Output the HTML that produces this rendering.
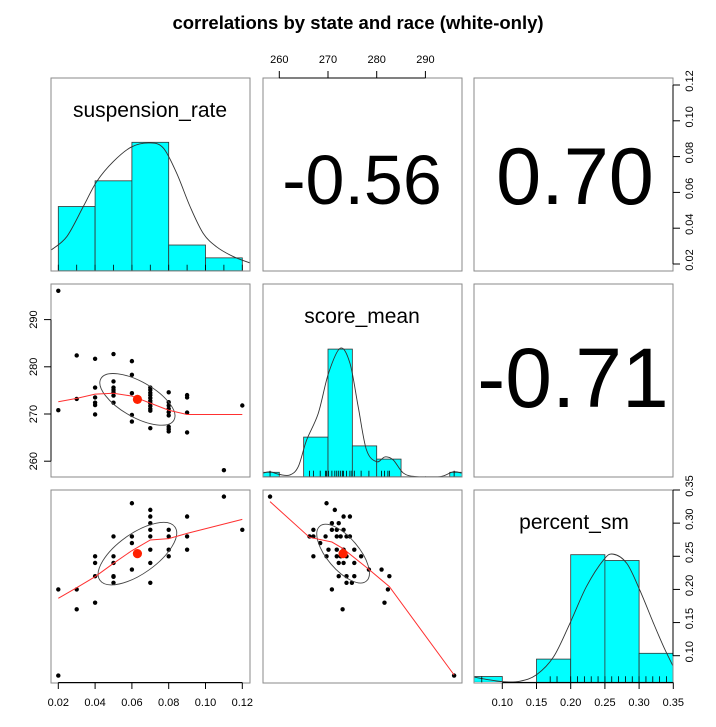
<!DOCTYPE html>
<html><head><meta charset="utf-8"><style>
html,body{margin:0;padding:0;background:#fff;}
svg{display:block;font-family:"Liberation Sans",Arial,sans-serif;}
</style></head><body>
<svg id="chart" width="716" height="727" viewBox="0 0 716 727" xmlns="http://www.w3.org/2000/svg">
<defs>
<clipPath id="c11"><rect x="51" y="78" width="199" height="193"/></clipPath>
<clipPath id="c22"><rect x="263" y="284" width="199" height="193"/></clipPath>
<clipPath id="c33"><rect x="474" y="490" width="199" height="192"/></clipPath>
</defs>
<text x="358" y="29" text-anchor="middle" font-size="18.5" font-weight="bold">correlations by state and race (white-only)</text>
</svg>
<script>
// ---- data ----
const susTicks=[0.02,0.04,0.06,0.08,0.10,0.12];
const rightTicks1=[0.02,0.04,0.06,0.08,0.10,0.12];
const scoreTicks=[260,270,280,290];
const pctTicks=[0.10,0.15,0.20,0.25,0.30,0.35];
const susBins=[0.02,0.04,0.06,0.08,0.10,0.12];
const susCounts=[10,14,20,4,2];
const susDensX=[0.016,0.0246,0.0336,0.0409,0.0499,0.0599,0.0698,0.0771,0.0843,0.0916,0.0988,0.1061,0.1151,0.1242];
const susDensY=[3.2,5.3,10.0,13.9,17.0,19.3,19.9,19.1,15.2,10.0,5.8,3.7,2.2,1.2];
const susRug=[0.02,0.03,0.04,0.05,0.06,0.07,0.08,0.09,0.10,0.11,0.12];
const scoreBins=[255,260,265,270,275,280,285,290,295,300];
const scoreCounts=[1,0,9,29,7,4,0,0,1];
const scoreDensX=[256.6,258.1,260.1,262.2,263.9,265.6,268.0,270.1,272.5,274.5,276.2,277.9,280.0,281.7,283.4,285.5,288.2,293.0,295.7,297.5];
const scoreDensY=[0.8,1.1,0.5,0.4,2.3,8.3,14.4,23.5,29.2,25.8,15.9,6.1,3.4,4.5,3.8,0.8,0,0,1.1,0.8];
const scoreRug=[258.1,266.2,267.0,268.4,269.5,269.7,270.1,270.8,271.4,271.8,272.2,272.6,273.0,273.2,273.8,274.5,274.9,275.4,276.8,278.4,281.0,281.6,282.3,282.6,295.9];
const pctBins=[0.05,0.10,0.15,0.20,0.25,0.30,0.35];
const pctCounts=[1,0,4,22,21,5];
const pctDensX=[0.059,0.077,0.101,0.126,0.150,0.175,0.199,0.223,0.248,0.262,0.282,0.301,0.321,0.336,0.350];
const pctDensY=[0.9,0.5,0.1,0.2,1.3,4.4,10.2,16.5,21.1,22.1,20.5,15.9,10.2,6.1,2.7];
const pctRug=[0.07,0.17,0.18,0.2,0.21,0.22,0.23,0.24,0.25,0.26,0.27,0.28,0.29,0.30,0.31,0.32,0.33,0.34];
// scatter: suspension vs score
const s21x=[0.02,0.02,0.03,0.03,0.04,0.04,0.04,0.04,0.04,0.04,0.05,0.05,0.05,0.05,0.05,0.05,0.05,0.06,0.06,0.06,0.06,0.06,0.07,0.07,0.07,0.07,0.07,0.07,0.07,0.07,0.07,0.07,0.07,0.08,0.08,0.08,0.08,0.08,0.08,0.08,0.08,0.08,0.09,0.09,0.09,0.09,0.11,0.12];
const s21y=[296.1,270.8,282.4,273.2,281.7,275.6,273.5,272.4,271.9,269.9,282.7,276.9,275.6,275.1,274.6,273.9,272.4,281.2,278.3,274.4,269.8,268.4,275.6,275.1,274.5,274.0,273.4,272.8,272.3,271.7,271.1,270.7,267.0,274.6,272.5,271.8,271.1,270.4,269.7,267.3,266.8,266.3,274.0,273.5,270.3,266.1,258.1,271.8];
const l21x=[0.02,0.03,0.04,0.05,0.06,0.07,0.08,0.09,0.12];
const l21y=[272.6,273.3,274.2,274.4,273.8,272.3,270.8,269.9,269.9];
// scatter: suspension vs percent
const s31x=[0.02,0.02,0.03,0.03,0.04,0.04,0.04,0.04,0.05,0.05,0.05,0.05,0.05,0.05,0.06,0.06,0.06,0.06,0.07,0.07,0.07,0.07,0.07,0.07,0.07,0.07,0.08,0.08,0.08,0.08,0.09,0.09,0.09,0.11,0.12];
const s31y=[0.200,0.070,0.200,0.170,0.250,0.240,0.220,0.180,0.280,0.250,0.240,0.220,0.219,0.210,0.330,0.280,0.270,0.230,0.320,0.310,0.300,0.290,0.280,0.260,0.240,0.210,0.290,0.280,0.260,0.250,0.310,0.280,0.260,0.340,0.290];
const l31x=[0.02,0.03,0.04,0.05,0.06,0.07,0.08,0.09,0.12];
const l31y=[0.1866,0.2026,0.2192,0.2394,0.2585,0.2746,0.2766,0.2846,0.3057];
// scatter: score vs percent
const s32x=[258.1,269.7,271.4,273.2,274.5,270.8,272.2,267.0,270.8,271.8,273.2,266.2,267.0,269.5,271.8,272.6,273.8,274.5,268.4,270.1,271.8,273.2,275.4,267.0,269.7,271.8,272.6,273.8,276.8,272.2,273.2,275.4,278.4,281.0,272.2,273.8,275.4,282.6,273.8,274.9,270.8,282.3,281.6,273.0,295.9];
const s32y=[0.340,0.330,0.320,0.310,0.310,0.300,0.300,0.290,0.290,0.290,0.290,0.280,0.280,0.280,0.280,0.280,0.280,0.280,0.270,0.260,0.260,0.260,0.260,0.250,0.250,0.250,0.250,0.250,0.250,0.240,0.240,0.240,0.230,0.230,0.220,0.220,0.220,0.220,0.210,0.210,0.200,0.200,0.180,0.170,0.070];
const l32x=[258.1,266.2,270.8,273.0,278.4,282.6,295.9];
const l32y=[0.3324,0.2786,0.2715,0.262,0.2303,0.2042,0.0709];
const meanSus=[0.063];
const meanScore=[273.1];
const meanPct=[0.254];
const corrVals=["-0.56","0.70","-0.71"];

// ---- scales ----
const xS=v=>58.3+(v-0.02)*1840;
const xC=v=>328+(v-270)*4.87;
const xP=v=>502.3+(v-0.10)*684;
const yR1=v=>264-(v-0.02)*1790;
const yC=v=>414-(v-270)*4.72;
const yP=v=>490+(0.35-v)*662.8;

const svg=document.getElementById('chart');
const NS='http://www.w3.org/2000/svg';
function mk(tag,attrs,parent){const e=document.createElementNS(NS,tag);for(const k in attrs)e.setAttribute(k,attrs[k]);(parent||svg).appendChild(e);return e;}

const panels=[[51,78,'panel-suspension-hist'],[263,78,'panel-corr-sus-score'],[474,78,'panel-corr-sus-pct'],
[51,284,'panel-scatter-sus-score'],[263,284,'panel-score-hist'],[474,284,'panel-corr-score-pct'],
[51,490,'panel-scatter-sus-pct'],[263,490,'panel-scatter-score-pct'],[474,490,'panel-pct-hist']];

function hist(bins,counts,xf,base,unit,clip,name){
  const g=mk('g',{'clip-path':'url(#'+clip+')'});
  
  
  for(let i=0;i<counts.length;i++){
    const x0=xf(bins[i]),x1=xf(bins[i+1]),h=counts[i]*unit;
    const r=mk('rect',{x:x0,y:base-h,width:x1-x0,height:Math.max(h,0.6),fill:'#00ffff',stroke:'#333','stroke-width':0.8},g);
    
    
  }
  return g;
}
function smoothPath(P){
  let d='M'+P[0][0]+','+P[0][1];
  for(let i=0;i<P.length-1;i++){
    const p0=P[i-1]||P[i],p1=P[i],p2=P[i+1],p3=P[i+2]||P[i+1];
    const c1x=p1[0]+(p2[0]-p0[0])/6,c1y=p1[1]+(p2[1]-p0[1])/6;
    const c2x=p2[0]-(p3[0]-p1[0])/6,c2y=p2[1]-(p3[1]-p1[1])/6;
    d+=' C'+c1x+','+c1y+' '+c2x+','+c2y+' '+p2[0]+','+p2[1];
  }
  return d;
}
function dens(xs,ys,xf,base,unit,clip,name){
  const P=xs.map((v,i)=>[xf(v),base-ys[i]*unit]);
  const p=mk('path',{d:smoothPath(P),fill:'none',stroke:'#333','stroke-width':0.9,'clip-path':'url(#'+clip+')'});
  
  
}
function rug(vals,xf,base,name){
  const g=mk('g',{});
  
  
  vals.forEach(v=>{mk('line',{x1:xf(v),x2:xf(v),y1:base,y2:base-6,stroke:'#000','stroke-width':0.8},g);});
}
function scatter(xs,ys,xf,yf,name){
  const g=mk('g',{});
  
  
  xs.forEach((v,i)=>{const c=mk('circle',{cx:xf(v),cy:yf(ys[i]),r:2.2,fill:'#000'},g);
    
    });
}
function loess(xs,ys,xf,yf,name){
  const p=mk('polyline',{points:xs.map((v,i)=>xf(v)+','+yf(ys[i])).join(' '),fill:'none',stroke:'#ff3030','stroke-width':1});
  
  
}
function ellipse(cx,cy,rx,ry,ang,name){
  const e=mk('ellipse',{cx:cx,cy:cy,rx:rx,ry:ry,transform:'rotate('+ang+' '+cx+' '+cy+')',fill:'none',stroke:'#444','stroke-width':0.9});
  
  
}
function centroid(cx,cy,name){
  const c=mk('circle',{cx:cx,cy:cy,r:4.6,fill:'#ff2000'});
  
  
}
function txt(x,y,s,size,name,extra){
  const t=mk('text',Object.assign({x:x,y:y,'text-anchor':'middle','font-size':size},extra||{}));
  t.textContent=s;
  
  
  return t;
}

hist(susBins,susCounts,xS,270.7,6.42,'c11','suspension-histogram');
dens(susDensX,susDensY,xS,270.7,6.42,'c11','suspension-density');
rug(susRug,xS,270.7,'suspension-rug');
hist(scoreBins,scoreCounts,xC,476.7,4.4,'c22','score-histogram');
dens(scoreDensX,scoreDensY,xC,476.7,4.4,'c22','score-density');
rug(scoreRug,xC,476.7,'score-rug');
hist(pctBins,pctCounts,xP,682.3,5.8,'c33','percent-histogram');
dens(pctDensX,pctDensY,xP,682.3,5.8,'c33','percent-density');
rug(pctRug,xP,682.3,'percent-rug');

scatter(s21x,s21y,xS,yC,'scatter-sus-score');
ellipse(xS(meanSus[0]),yC(meanScore[0]),42,17.7,29.6,'ellipse-sus-score');
loess(l21x,l21y,xS,yC,'loess-sus-score');
centroid(xS(meanSus[0]),yC(meanScore[0]),'centroid-sus-score');

scatter(s31x,s31y,xS,yP,'scatter-sus-pct');
ellipse(xS(meanSus[0]),yP(meanPct[0]),46,20,-35.4,'ellipse-sus-pct');
loess(l31x,l31y,xS,yP,'loess-sus-pct');
centroid(xS(meanSus[0]),yP(meanPct[0]),'centroid-sus-pct');

scatter(s32x,s32y,xC,yP,'scatter-score-pct');
ellipse(xC(meanScore[0]),yP(meanPct[0]),36,16,49.7,'ellipse-score-pct');
loess(l32x,l32y,xC,yP,'loess-score-pct');
centroid(xC(meanScore[0]),yP(meanPct[0]),'centroid-score-pct');

panels.forEach(p=>{const r=mk('rect',{x:p[0],y:p[1],width:199,height:193,fill:'none',stroke:'#8a8a8a','stroke-width':1});
  
  });

txt(150,117,'suspension_rate',21,'label-suspension-rate');
txt(362,323,'score_mean',21,'label-score-mean');
txt(574,529,'percent_sm',21,'label-percent-sm');

txt(362,204,corrVals[0],70,'corr-sus-score');
txt(575,204,corrVals[1],81,'corr-sus-pct');
txt(573,407,corrVals[2],84,'corr-score-pct');

function axisG(name){const g=mk('g',{});return g;}
let g=axisG('x-axis-suspension');
mk('line',{x1:xS(susTicks[0]),x2:xS(susTicks[susTicks.length-1]),y1:682.5,y2:682.5,stroke:'#000'},g);
susTicks.forEach(v=>{mk('line',{x1:xS(v),x2:xS(v),y1:682.5,y2:689,stroke:'#000'},g);
  const t=mk('text',{x:xS(v),y:706,'text-anchor':'middle','font-size':11},g);t.textContent=v.toFixed(2);});
g=axisG('x-axis-score-top');
mk('line',{x1:xC(scoreTicks[0]),x2:xC(scoreTicks[scoreTicks.length-1]),y1:78,y2:78,stroke:'#000'},g);
scoreTicks.forEach(v=>{mk('line',{x1:xC(v),x2:xC(v),y1:78,y2:71,stroke:'#000'},g);
  const t=mk('text',{x:xC(v),y:63,'text-anchor':'middle','font-size':11},g);t.textContent=v;});
g=axisG('x-axis-percent');
mk('line',{x1:xP(pctTicks[0]),x2:xP(pctTicks[pctTicks.length-1]),y1:682.5,y2:682.5,stroke:'#000'},g);
pctTicks.forEach(v=>{mk('line',{x1:xP(v),x2:xP(v),y1:682.5,y2:689,stroke:'#000'},g);
  const t=mk('text',{x:xP(v),y:706,'text-anchor':'middle','font-size':11},g);t.textContent=v.toFixed(2);});
g=axisG('y-axis-score');
mk('line',{x1:51,x2:51,y1:yC(scoreTicks[0]),y2:yC(scoreTicks[scoreTicks.length-1]),stroke:'#000'},g);
scoreTicks.forEach(v=>{mk('line',{x1:51,x2:44,y1:yC(v),y2:yC(v),stroke:'#000'},g);
  const t=mk('text',{x:37,y:yC(v),'text-anchor':'middle','font-size':11,transform:'rotate(-90 37 '+yC(v)+')'},g);t.textContent=v;});
g=axisG('y-axis-suspension-right');
mk('line',{x1:673,x2:673,y1:yR1(rightTicks1[0]),y2:yR1(rightTicks1[rightTicks1.length-1]),stroke:'#000'},g);
rightTicks1.forEach(v=>{mk('line',{x1:673,x2:680,y1:yR1(v),y2:yR1(v),stroke:'#000'},g);
  const t=mk('text',{x:697,y:yR1(v),'text-anchor':'middle','font-size':11,transform:'rotate(-90 693 '+yR1(v)+')'},g);t.textContent=v.toFixed(2);});
g=axisG('y-axis-percent-right');
mk('line',{x1:673,x2:673,y1:yP(pctTicks[0]),y2:yP(pctTicks[pctTicks.length-1]),stroke:'#000'},g);
pctTicks.forEach(v=>{mk('line',{x1:673,x2:680,y1:yP(v),y2:yP(v),stroke:'#000'},g);
  const t=mk('text',{x:697,y:yP(v),'text-anchor':'middle','font-size':11,transform:'rotate(-90 693 '+yP(v)+')'},g);t.textContent=v.toFixed(2);});
</script>
</body></html>
